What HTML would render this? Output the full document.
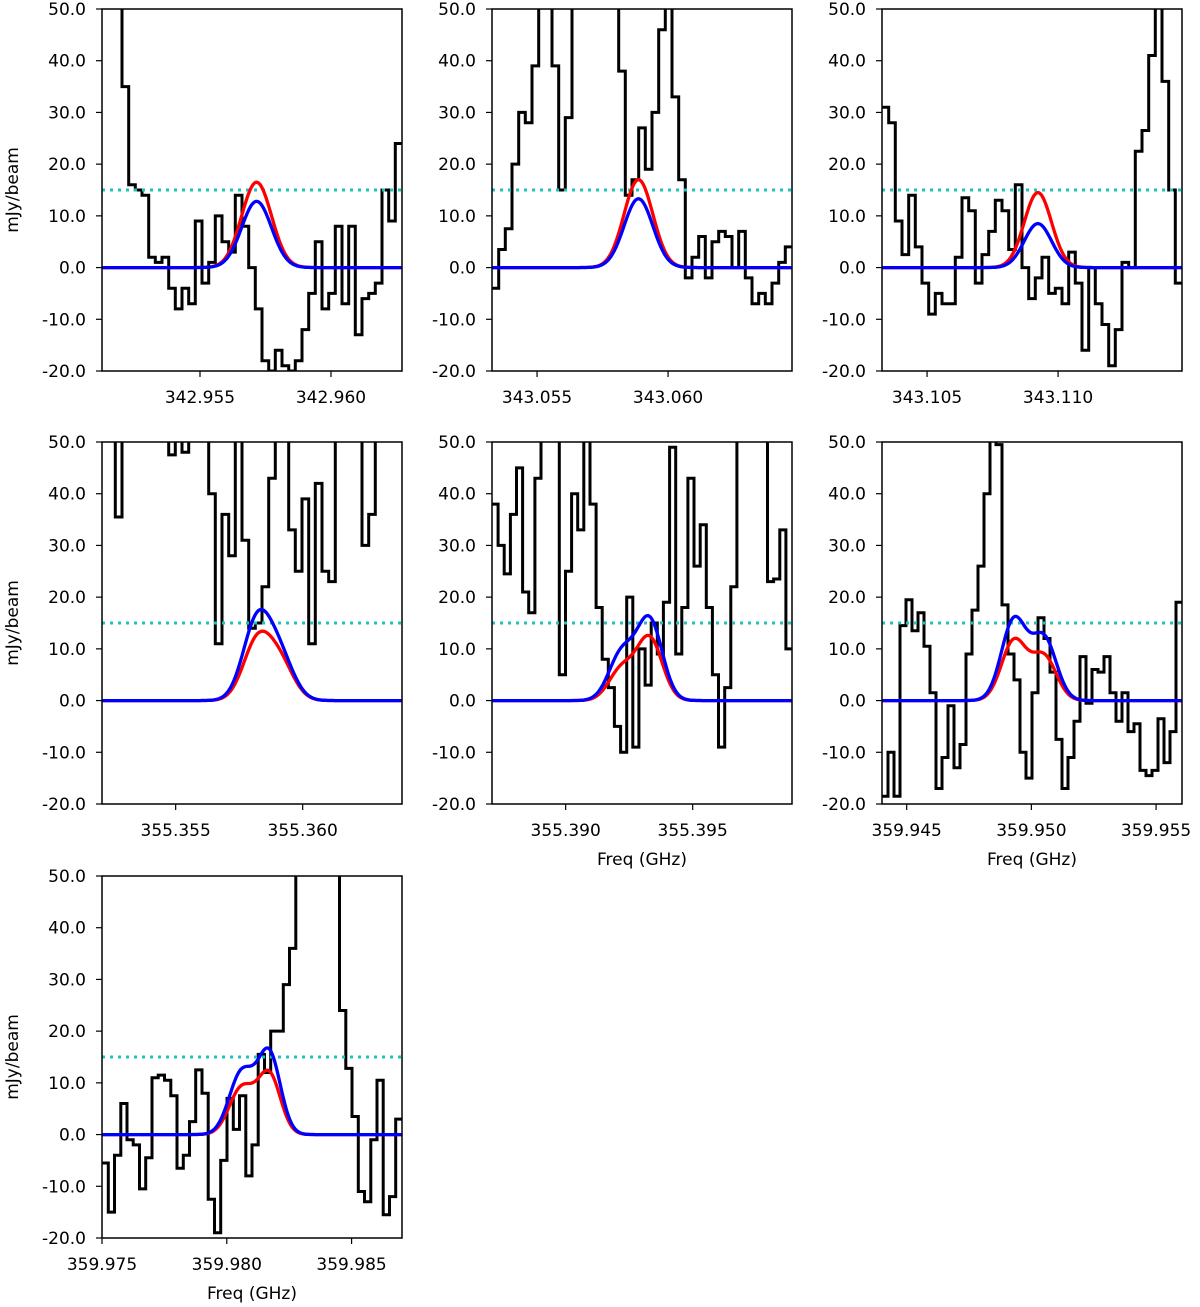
<!DOCTYPE html>
<html><head><meta charset="utf-8"><style>
body{margin:0;background:#fff;}
svg{display:block;font-family:"DejaVu Sans","Liberation Sans",sans-serif;}
</style></head><body>
<svg id="fig" width="1200" height="1307" viewBox="0 0 1200 1307" xmlns="http://www.w3.org/2000/svg"></svg>
<script>
// ---- data (mJy/beam per channel) ----
const p1Vals=[60,60,60,35,16,15,14,2,1,2,-4,-8,-4,-7,9,-3,1,10,5,3,14,8,0,-8,-18,-20,-16,-19,-20,-18,-12,-5,5,-8,-5,8,-7,8,-13,-6,-5,-3,15,9,24];
const p2Vals=[-4,3.5,7.5,20,30,28,39,60,60,39,15,29,60,60,60,60,60,60,60,38,14,17,27,19,30,46,60,33,17,-2,2,6,-2,5,7,6,0,7,-2,-7,-5,-7,-3,1,4];
const p3Vals=[31,28,9,2.5,14,4,-3,-9,-5,-7,-7,2,13.5,11,-3,2.5,7,13,11,3.5,16,0,-6,-2,2,-5,-4,-7,3,-3,-16,0,-7,-11,-19,-12,1,0,22.5,26.5,41,60,36,15,-3];
const p4Vals=[60,60,35.5,60,60,60,60,60,60,60,47.5,60,48,60,60,60,40,11,36,28,60,31,14,15,22,43,60,60,33,25,39,11,42,25,23,60,60,60,60,30,36,60,60,60,60];
const p5Vals=[38,30,24.5,36,45,21,17,43,60,60,60,5,25,40,33,60,38,18,8,2.5,-5,-10,20,-9,10,3,15,9,19,49,9,18,43,26,34,18,5,-9,2.5,22,60,60,60,60,60,23,23.5,33,10];
const p6Vals=[-18.5,-10,-18.5,14.5,19.5,13.5,17,10.5,1.5,-17,-11,-1,-13,-8.5,9,17.5,26,40,51,49.5,18.5,9,4,-10,-15,1.5,16,12,5.5,-7.5,-17,-11,-4,8.5,-0.5,6,5.5,8.5,1.5,-4,1.5,-6,-4.5,-13.5,-14.5,-13.5,-3.5,-12,-6,19];
const p7Vals=[-5.5,-15,-4,6,-1,-2,-10.5,-4.5,11,11.5,10.5,7.5,-6.5,-4,2.5,12.5,8,-12.5,-19,-5,7,1,7.5,-8,-2,15.5,12,20,20,29,36,60,60,60,60,60,60,60,24,12.8,3.5,-11,-13,-1,10.5,-15.5,-12,3];
// frequency ranges (GHz)
const fMin=[342.95126,343.05328,343.10328,355.35210,355.38710,359.94401,359.97500];
const fMax=[342.96271,343.06473,343.11473,355.36391,355.39891,359.95604,359.98702];
const xTicks=[[342.955,342.960],[343.055,343.060],[343.105,343.110],[355.355,355.360],[355.390,355.395],[359.945,359.950,359.955],[359.975,359.980,359.985]];
const yTicks=[50,40,30,20,10,0,-10,-20];
// gaussian components: [center GHz, amp, sigma GHz]
const redFit=[[[342.95716,16.5,0.00057]],[[343.05887,17,0.00055]],[[343.10923,14.5,0.00052]],[[355.3582,11,0.00055],[355.3591,7,0.00055]],[[355.3922,6,0.0005],[355.3933,12,0.0005]],[[359.9493,11.5,0.0005],[359.9505,8.5,0.0005]],[[359.9806,9,0.0005],[359.9817,11.5,0.00045]]];
const blueFit=[[[342.95716,12.8,0.00057]],[[343.05887,13.3,0.00055]],[[343.10923,8.5,0.00052]],[[355.3582,15,0.00055],[355.3591,8,0.00055]],[[355.3922,9,0.0005],[355.3933,15.5,0.0005]],[[359.9493,15.5,0.0005],[359.9505,12,0.0005]],[[359.9806,12,0.0005],[359.9817,15.5,0.00045]]];
const threshold=15;
const allVals=[p1Vals,p2Vals,p3Vals,p4Vals,p5Vals,p6Vals,p7Vals];
// ---- layout ----
const lefts=[102,492,882,102,492,882,102], tops=[9,9,9,442,442,442,876];
const W=300,H=362,yMin=-20,yMax=50;
const svg=document.getElementById('fig');
const NS='http://www.w3.org/2000/svg';
function mk(t,a,parent){const e=document.createElementNS(NS,t);for(const k in a)e.setAttribute(k,a[k]);(parent||svg).appendChild(e);return e;}
const defs=mk('defs',{});
for(let p=0;p<7;p++){
  const L=lefts[p],T=tops[p];
  const xs=f=>L+(f-fMin[p])/(fMax[p]-fMin[p])*W;
  const ys=v=>T+(yMax-v)/(yMax-yMin)*H;
  const g=mk('g',{});
  
  
  const cp=mk('clipPath',{id:'c'+p},defs);mk('rect',{x:L,y:T,width:W,height:H},cp);
  const plot=mk('g',{'clip-path':'url(#c'+p+')'},g);
  const vals=allVals[p],n=vals.length,df=(fMax[p]-fMin[p])/n;
  let d='';
  for(let i=0;i<n;i++){const x0=xs(fMin[p]+i*df),x1=xs(fMin[p]+(i+1)*df),y=ys(vals[i]);d+=(i?'L':'M')+x0.toFixed(1)+' '+y.toFixed(1)+'L'+x1.toFixed(1)+' '+y.toFixed(1);}
  const sp=mk('path',{d:d,fill:'none',stroke:'#000','stroke-width':3,'stroke-linejoin':'miter'},plot);
  
  
  const th=mk('line',{x1:L,x2:L+W,y1:ys(threshold),y2:ys(threshold),stroke:'#1fc0c0','stroke-width':3,'stroke-dasharray':'3 5'},plot);
  
  
  const fits=[[redFit[p],'#ff0000','red-fit'],[blueFit[p],'#0000ff','blue-fit']];
  for(const [comps,col,nm] of fits){
    let fd='';
    for(let k=0;k<=300;k++){const f=fMin[p]+(fMax[p]-fMin[p])*k/300;let v=0;for(const c of comps)v+=c[1]*Math.exp(-0.5*((f-c[0])/c[2])**2);fd+=(k?'L':'M')+xs(f).toFixed(1)+' '+ys(v).toFixed(1);}
    const fp=mk('path',{d:fd,fill:'none',stroke:col,'stroke-width':3.3},plot);
    
    
  }
  const fr=mk('rect',{x:L,y:T,width:W,height:H,fill:'none',stroke:'#000','stroke-width':1.5},g);
  
  
  for(const t of yTicks){const y=ys(t);mk('line',{x1:L-6,x2:L,y1:y,y2:y,stroke:'#000','stroke-width':1.2},g);
    const tx=mk('text',{x:L-16,y:y+6,'text-anchor':'end','font-size':17,fill:'#000'},g);tx.textContent=t.toFixed(1);
    
    }
  for(const t of xTicks[p]){const x=xs(t);mk('line',{x1:x,x2:x,y1:T+H,y2:T+H+6,stroke:'#000','stroke-width':1.2},g);
    const tx=mk('text',{x:x,y:T+H+32,'text-anchor':'middle','font-size':17,fill:'#000'},g);tx.textContent=t.toFixed(3);
    
    }
  if(p%3===0){const yl=mk('text',{x:0,y:0,'text-anchor':'middle','font-size':17,transform:'translate(18,'+(T+H/2)+') rotate(-90)'},g);yl.textContent='mJy/beam';
    
    }
  if(p>=4){const xl=mk('text',{x:L+W/2,y:T+H+61,'text-anchor':'middle','font-size':17},g);xl.textContent='Freq (GHz)';
    
    }
}
</script>
</body></html>
